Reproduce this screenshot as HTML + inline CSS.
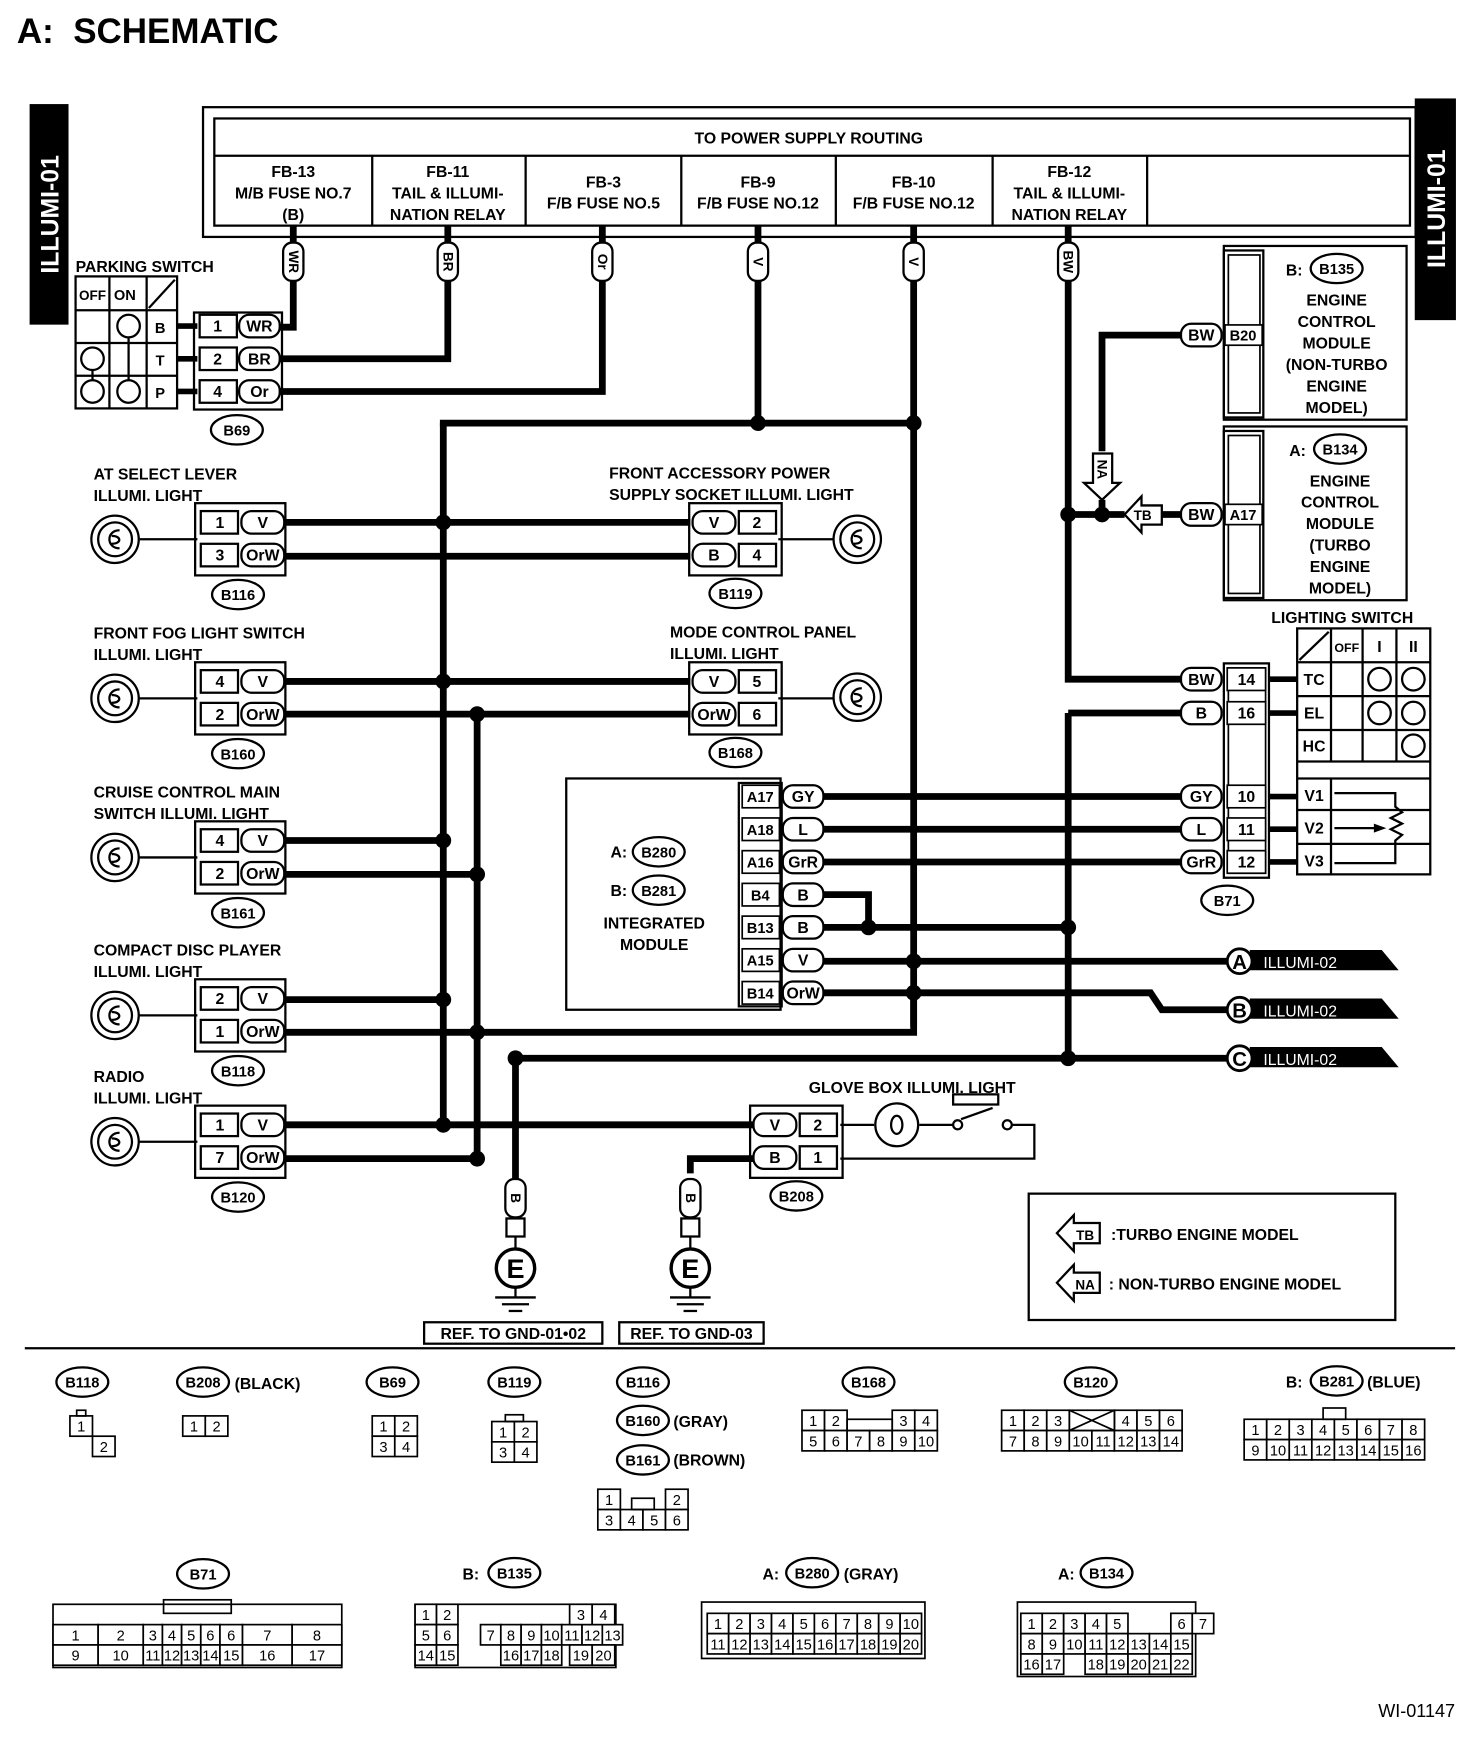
<!DOCTYPE html>
<html><head><meta charset="utf-8"><style>
html,body{margin:0;padding:0;background:#fff}
svg{display:block}
text{font-family:"Liberation Sans",sans-serif;font-weight:bold;fill:#000}
</style></head><body>
<svg id="s" width="1472" height="1760" viewBox="0 0 1305 1560" preserveAspectRatio="none" xmlns="http://www.w3.org/2000/svg"></svg>
<script>
const S=document.getElementById('s');let h='';
function R(x,y,w,hh,sw,f){h+=`<rect x="${x}" y="${y}" width="${w}" height="${hh}" fill="${f||'none'}" stroke="#000" stroke-width="${sw||1.5}"/>`;}
function L(pts,sw){h+=`<polyline points="${pts}" fill="none" stroke="#000" stroke-width="${sw||6}" stroke-linejoin="miter"/>`;}
function T(x,y,s,sz,a,extra){h+=`<text x="${x}" y="${y}" font-size="${sz||14}" text-anchor="${a||'start'}" ${extra||''}>${s}</text>`;}
function D(x,y){h+=`<circle cx="${x}" cy="${y}" r="7"/>`;}
function O(cx,cy,s,w){w=w||46;h+=`<ellipse cx="${cx}" cy="${cy}" rx="${w/2}" ry="13" fill="#fff" stroke="#000" stroke-width="2"/>`;T(cx,cy+5,s,13,'middle');}
function TAG(x,y,s,w){w=w||38;h+=`<rect x="${x}" y="${y-10}" width="${w}" height="20" rx="9" fill="#fff" stroke="#000" stroke-width="2"/>`;T(x+w/2,y+5,s,14,'middle');}
function VTAG(x,y,s){h+=`<rect x="${x-9}" y="${y}" width="18" height="34" rx="8" fill="#fff" stroke="#000" stroke-width="2"/>`;T(x,y+17,s,12,'middle',`dominant-baseline="central" transform="rotate(90 ${x} ${y+17})"`);}
function LAMP(cx,cy){h+=`<circle cx="${cx}" cy="${cy}" r="21" fill="#fff" stroke="#000" stroke-width="2"/><circle cx="${cx}" cy="${cy}" r="15" fill="none" stroke="#000" stroke-width="2"/><path d="M${cx+4} ${cy-8} C${cx-8} ${cy-8} ${cx-8} ${cy+8} ${cx+4} ${cy+8} M${cx-3} ${cy-3} C${cx+6} ${cy-3} ${cx+6} ${cy+4} ${cx-3} ${cy+4}" fill="none" stroke="#000" stroke-width="2"/>`;}
function CONL(x,yc,pins){let y0=yc-28;R(x-3,y0-4,80,64,2);
 pins.forEach((p,i)=>{let y=yc-15+i*29;R(x+2,y-10,33,20,2,'#fff');T(x+19,y+5,p[0],14,'middle');TAG(x+38,y,p[1],38);});
}
function CONR(x,yc,pins){R(x-3,yc-32,82,64,2);
 pins.forEach((p,i)=>{let y=yc-15+i*29;TAG(x,y,p[1],38);R(x+41,y-10,33,20,2,'#fff');T(x+57,y+5,p[0],14,'middle');});
}
T(15,38,'A:&#160;&#160;SCHEMATIC',31);
R(27,93,33,194,0,'#000');T(0,0,'ILLUMI-01',22,'middle',`style="fill:#fff" transform="translate(52 190) rotate(-90)"`);
R(1255,88,35,195,0,'#000');T(0,0,'ILLUMI-01',22,'middle',`style="fill:#fff" transform="translate(1281 185) rotate(-90)"`);
R(180,95,1075,115,2);R(190,105,1060,95,2);L('190,138 1250,138',2);
T(717,127,'TO POWER SUPPLY ROUTING',14,'middle');
[330,466,604,741,880,1017].forEach(x=>L(`${x},138 ${x},200`,2));
const fb=[[260,['FB-13','M/B FUSE NO.7','(B)']],[397,['FB-11','TAIL &amp; ILLUMI-','NATION RELAY']],[535,['FB-3','F/B FUSE NO.5']],[672,['FB-9','F/B FUSE NO.12']],[810,['FB-10','F/B FUSE NO.12']],[948,['FB-12','TAIL &amp; ILLUMI-','NATION RELAY']]];
fb.forEach(([x,ls])=>{let y0=ls.length==3?157:166;ls.forEach((s,i)=>T(x,y0+i*19,s,14,'middle'));});
L('260,200 260,290 245,290');L('397,200 397,318 245,318');L('534,200 534,347 245,347');
L('672,200 672,375');L('810,200 810,910');L('947,200 947,602 1048,602');
L('947,632 947,938');L('947,632 1048,632');
VTAG(260,215,'WR');VTAG(397,215,'BR');VTAG(534,215,'Or');VTAG(672,215,'V');VTAG(810,215,'V');VTAG(947,215,'BW');
T(67,241,'PARKING SWITCH',14);
R(67,245,90,117,2);[97,130].forEach(x=>L(`${x},245 ${x},362`,2));[275,304,333].forEach(y=>L(`67,${y} 157,${y}`,2));
T(70,266,'OFF',12);T(101,266,'ON',13);L('132,273 155,248',2);
T(142,295,'B',13,'middle');T(142,324,'T',13,'middle');T(142,353,'P',13,'middle');
[[114,289],[82,318],[82,347],[114,347]].forEach(([x,y])=>h+=`<circle cx="${x}" cy="${y}" r="10" fill="#fff" stroke="#000" stroke-width="2"/>`);
L('114,299 114,337',2);L('82,328 82,337',2);
L('157,289 175,289',5);L('157,318 175,318',5);L('157,347 175,347',5);
R(172,277,78,86,2);
[['1','WR',289],['2','BR',318],['4','Or',347]].forEach(p=>{R(177,p[2]-10,33,20,2,'#fff');T(193,p[2]+5,p[0],14,'middle');TAG(212,p[2],p[1],36);});
O(210,381,'B69');
L('390,375 812,375');D(672,375);D(810,375);
L('393,375 393,997');L('423,633 423,1027');
const left=[[478,'AT SELECT LEVER','ILLUMI. LIGHT','B116',[['1','V'],['3','OrW']]],
[619,'FRONT FOG LIGHT SWITCH','ILLUMI. LIGHT','B160',[['4','V'],['2','OrW']]],
[760,'CRUISE CONTROL MAIN','SWITCH ILLUMI. LIGHT','B161',[['4','V'],['2','OrW']]],
[900,'COMPACT DISC PLAYER','ILLUMI. LIGHT','B118',[['2','V'],['1','OrW']]],
[1012,'RADIO','ILLUMI. LIGHT','B120',[['1','V'],['7','OrW']]]];
L('250,463 612,463');L('250,493 612,493');L('250,604 612,604');L('250,633 612,633');
L('250,745 393,745');L('250,775 423,775');L('250,886 393,886');L('250,915 810,915 810,880');
L('250,997 668,997');L('250,1027 423,1027');
D(393,463);D(393,604);D(423,633);D(393,745);D(423,775);D(393,886);D(423,915);D(393,997);D(423,1027);
left.forEach(([y,a,b,c,p])=>{T(83,y-53,a,14);T(83,y-34,b,14);L(`123,${y} 175,${y}`,2);LAMP(102,y);CONL(176,y,p);O(211,y+49,c);});
T(540,424,'FRONT ACCESSORY POWER',14);T(540,443,'SUPPLY SOCKET ILLUMI. LIGHT',14);
T(594,565,'MODE CONTROL PANEL',14);T(594,584,'ILLUMI. LIGHT',14);
CONR(614,478,[['2','V'],['4','B']]);CONR(614,619,[['5','V'],['6','OrW']]);
L('690,478 740,478',2);L('690,619 740,619',2);LAMP(760,478);LAMP(760,618);
O(652,526,'B119');O(652,667,'B168');
R(502,690,190,205,2);R(655,694,38,198,2);
const im=[['A17','GY'],['A18','L'],['A16','GrR'],['B4','B'],['B13','B'],['A15','V'],['B14','OrW']];
im.forEach((p,i)=>{let y=706+i*29;R(658,y-10,33,20,1.5,'#fff');T(674,y+5,p[0],13,'middle');TAG(694,y,p[1],36);});
T(556,760,'A:',14,'end');O(584,755,'B280');T(556,794,'B:',14,'end');O(584,789,'B281');
T(580,823,'INTEGRATED',14,'middle');T(580,842,'MODULE',14,'middle');
L('730,706 1048,706');L('730,735 1048,735');L('730,764 1048,764');
L('730,793 770,793 770,822');L('730,822 947,822');D(770,822);D(947,822);
L('730,852 1090,852');D(810,852);
L('730,880 1020,880 1030,895 1090,895');D(810,880);
L('457,938 1090,938');D(457,938);D(947,938);
[['A',852],['B',895],['C',938]].forEach(([s,y])=>{h+=`<polygon points="1108,${y-10} 1225,${y-10} 1240,${y+8} 1108,${y+8}" fill="#000"/>`;h+=`<circle cx="1099" cy="${y}" r="11" fill="#fff" stroke="#000" stroke-width="2.5"/>`;T(1099,y+7,s,18,'middle');T(1120,y+6,'ILLUMI-02',14,'start','style="fill:#fff;font-weight:normal"');});
L('457,938 457,1045');L('612,1040 612,1027 668,1027');
[457,612].forEach((x,i)=>{VTAG(x,1045,'B');L(`${x},1079 ${x},1090`,2);R(x-8,1080,16,16,2,'#fff');L(`${x},1096 ${x},1108`,2);h+=`<circle cx="${x}" cy="${1124}" r="17" fill="#fff" stroke="#000" stroke-width="3"/>`;T(x,1133,'E',24,'middle');L(`${x},1141 ${x},1150`,2);L(`${x-18},1150 ${x+18},1150`,2);L(`${x-12},1156 ${x+12},1156`,2);L(`${x-6},1162 ${x+6},1162`,2);});
R(376,1172,158,19,2);T(455,1187,'REF. TO GND-01•02',14,'middle');
R(549,1172,128,19,2);T(613,1187,'REF. TO GND-03',14,'middle');
T(717,969,'GLOVE BOX ILLUMI. LIGHT',14);
CONR(668,1012,[['2','V'],['1','B']]);O(706,1060,'B208');
L('745,997 775,997',2);h+=`<circle cx="795" cy="997" r="19" fill="#fff" stroke="#000" stroke-width="2"/><ellipse cx="795" cy="997" rx="5" ry="8" fill="none" stroke="#000" stroke-width="2"/>`;
L('815,997 845,997',2);h+=`<circle cx="849" cy="997" r="4" fill="#fff" stroke="#000" stroke-width="2"/><circle cx="893" cy="997" r="4" fill="#fff" stroke="#000" stroke-width="2"/>`;
L('852,992 880,982',2);R(845,970,40,9,2);L('897,997 917,997 917,1027 745,1027',2);
R(1085,218,162,154,2);R(1085,222,35,148,2);R(1089,226,28,140,1.5);
T(1140,244,'B:',14);O(1185,238,'B135');['ENGINE','CONTROL','MODULE','(NON-TURBO','ENGINE','MODEL)'].forEach((s,i)=>T(1185,271+i*19,s,14,'middle'));
TAG(1047,297,'BW',36);R(1086,288,33,18,1.5,'#fff');T(1102,302,'B20',13,'middle');
L('1047,297 977,297 977,400',6);
R(1085,378,162,154,2);R(1085,382,35,148,2);R(1089,386,28,140,1.5);
T(1143,404,'A:',14);O(1188,398,'B134');['ENGINE','CONTROL','MODULE','(TURBO','ENGINE','MODEL)'].forEach((s,i)=>T(1188,431+i*19,s,14,'middle'));
TAG(1047,456,'BW',36);R(1086,447,33,18,1.5,'#fff');T(1102,461,'A17',13,'middle');
L('1047,456 1030,456',6);
h+=`<polygon points="997,456 1012,440 1012,448 1030,448 1030,465 1012,465 1012,472" fill="#fff" stroke="#000" stroke-width="2"/>`;T(1013,461,'TB',12,'middle');
h+=`<polygon points="977,443 961,428 969,428 969,402 986,402 986,428 993,428" fill="#fff" stroke="#000" stroke-width="2"/>`;T(0,0,'NA',12,'middle',`dominant-baseline="central" transform="translate(977 416) rotate(90)"`);
L('947,456 997,456',6);D(947,456);D(977,456);L('977,443 977,456',6);
T(1127,552,'LIGHTING SWITCH',14);
R(1085,588,40,190,2);R(1089,592,33,182,1.5);
[['BW','14',602],['B','16',632],['GY','10',706],['L','11',735],['GrR','12',764]].forEach(([a,b,y])=>{TAG(1047,y,a,36);R(1088,y-10,34,20,1.5,'#fff');T(1105,y+5,b,14,'middle');L(`1125,${y} 1150,${y}`,5);});
O(1088,798,'B71');
R(1150,557,118,218,2);[1180,1208,1238].forEach(x=>L(`${x},557 ${x},675`,2));L('1180,690 1180,775',2);
[587,617,647,675,690,718,748].forEach(y=>L(`1150,${y} 1268,${y}`,2));
L('1152,585 1178,560',2);T(1194,578,'OFF',11,'middle');T(1223,578,'I',14,'middle');T(1253,578,'II',14,'middle');
T(1165,607,'TC',14,'middle');T(1165,637,'EL',14,'middle');T(1165,666,'HC',14,'middle');
T(1165,710,'V1',14,'middle');T(1165,739,'V2',14,'middle');T(1165,768,'V3',14,'middle');
[[1223,602],[1253,602],[1223,632],[1253,632],[1253,661]].forEach(([x,y])=>h+=`<circle cx="${x}" cy="${y}" r="10" fill="#fff" stroke="#000" stroke-width="2"/>`);
L('1183,703 1237,703 1237,715 1243,720 1233,725 1243,730 1233,735 1243,740 1237,745 1237,765 1183,765',2);L('1183,734 1225,734',2);h+=`<polygon points="1229,734 1218,730 1218,738"/>`;
R(912,1058,325,112,2);
h+=`<polygon points="937,1093 952,1077 952,1084 975,1084 975,1102 952,1102 952,1109" fill="#fff" stroke="#000" stroke-width="2"/>`;T(962,1099,'TB',12,'middle');T(985,1099,':TURBO ENGINE MODEL',14);
h+=`<polygon points="937,1137 952,1121 952,1128 975,1128 975,1146 952,1146 952,1153" fill="#fff" stroke="#000" stroke-width="2"/>`;T(962,1143,'NA',12,'middle');T(983,1143,': NON-TURBO ENGINE MODEL',14);
L('22,1195 1290,1195',2);
function G(x,y,w,rows,ch){ch=ch||18;rows.forEach((r,ri)=>r.forEach((c,ci)=>{if(c===null)return;let cx=x+ci*w;R(cx,y+ri*ch,w,ch,1.5,'#fff');T(cx+w/2,y+ri*ch+14,c,13,'middle','style="font-weight:normal"');}));}
O(73,1225,'B118');G(62,1255,20,[['1']]);G(62,1273,20,[[null,'2']]);R(68,1250,8,5,1.5);
O(180,1225,'B208');T(208,1231,'(BLACK)',14);G(162,1255,20,[['1','2']]);
O(348,1225,'B69');G(330,1255,20,[['1','2'],['3','4']]);
O(456,1225,'B119');G(436,1260,20,[['1','2'],['3','4']]);R(448,1254,16,6,1.5);
O(570,1225,'B116');O(570,1259,'B160');T(597,1265,'(GRAY)',14);O(570,1294,'B161');T(597,1299,'(BROWN)',14);
G(530,1320,20,[['1',null,null,'2'],['3','4','5','6']]);R(560,1328,20,10,1.5);
O(770,1225,'B168');G(711,1250,20,[['1','2',null,null,'3','4'],['5','6','7','8','9','10']]);R(751,1258,40,10,1.5);
O(967,1225,'B120');G(888,1250,20,[['1','2','3',null,null,'4','5','6'],['7','8','9','10','11','12','13','14']]);h+=`<path d="M948 1250 L988 1268 M988 1250 L948 1268" stroke="#000" stroke-width="1.5"/>`;R(948,1250,40,18,1.5);
T(1140,1230,'B:',14);O(1185,1224,'B281');T(1212,1230,'(BLUE)',14);
G(1103,1258,20,[['1','2','3','4','5','6','7','8'],['9','10','11','12','13','14','15','16']]);R(1173,1248,20,10,1.5);
O(180,1395,'B71');R(47,1422,256,56,1.5);G(47,1440,40,[['1','2'],['9','10']]);G(127,1440,17,[['3','4','5','6'],['11','12','13','14']]);R(145,1418,60,12,1.5);G(195,1440,20,[['6'],['15']]);G(215,1440,44,[['7','8'],['16','17']]);
T(410,1400,'B:',14);O(456,1394,'B135');R(368,1422,178,56,1.5);
G(368,1422,19,[['1','2'],['5','6'],['14','15']]);G(426,1440,18,[['7','8','9','10','11','12','13']]);G(426,1458,18,[[null,'16','17','18']]);G(505,1422,20,[['3','4'],[],[null]]);G(505,1458,20,[['19','20']]);
T(676,1400,'A:',14);O(720,1394,'B280');T(748,1400,'(GRAY)',14);R(622,1420,198,50,1.5);
G(627,1430,19,[['1','2','3','4','5','6','7','8','9','10'],['11','12','13','14','15','16','17','18','19','20']]);
T(938,1400,'A:',14);O(981,1394,'B134');R(902,1420,158,66,1.5);
G(905,1430,19,[['1','2','3','4','5',null,null,'6','7'],['8','9','10','11','12','13','14','15'],['16','17',null,'18','19','20','21','22']]);
T(1290,1522,'WI-01147',16,'end','style="font-weight:normal"');
S.innerHTML=h;
</script>
</body></html>
